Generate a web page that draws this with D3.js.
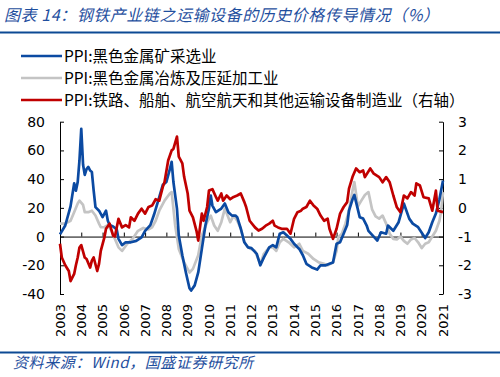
<!DOCTYPE html>
<html><head><meta charset="utf-8">
<script src="https://cdn.jsdelivr.net/npm/d3@7"></script>
<style>
body{margin:0;background:#fff;}
svg{display:block;}
</style></head>
<body>
<svg id="c" width="500" height="377"></svg>
<script>
// ---- data ----
const title = "图表 14：钢铁产业链之运输设备的历史价格传导情况（%）";
const source = "资料来源：Wind，国盛证券研究所";
const seriesNames = ["PPI:黑色金属矿采选业","PPI:黑色金属冶炼及压延加工业","PPI:铁路、船舶、航空航天和其他运输设备制造业（右轴）"];
const yearTicks = d3.range(2003, 2022);
const leftTicks = [-40,-20,0,20,40,60,80];
const rightTicks = [-3,-2,-1,0,1,2,3];

const blueDates = ["2003-01","2003-04","2003-07","2003-09","2003-10","2003-11","2003-12","2004-01","2004-02","2004-03","2004-04","2004-05","2004-06","2004-07","2004-08","2004-09","2004-11","2005-01","2005-03","2005-04","2005-05","2005-07","2005-09","2005-10","2005-12","2006-02","2006-05","2006-08","2006-11","2007-01","2007-04","2007-06","2007-09","2007-11","2008-01","2008-03","2008-04","2008-05","2008-07","2008-08","2008-10","2008-12","2009-02","2009-03","2009-05","2009-07","2009-09","2009-11","2010-01","2010-02","2010-03","2010-05","2010-08","2010-10","2010-12","2011-02","2011-04","2011-05","2011-07","2011-09","2011-11","2012-01","2012-04","2012-06","2012-08","2012-11","2013-01","2013-03","2013-05","2013-07","2013-09","2013-11","2014-01","2014-04","2014-06","2014-08","2014-11","2015-02","2015-04","2015-07","2015-09","2015-11","2016-01","2016-03","2016-05","2016-07","2016-08","2016-10","2016-11","2017-02","2017-04","2017-06","2017-07","2017-12","2018-02","2018-05","2018-06","2018-09","2018-12","2019-03","2019-06","2019-08","2019-11","2020-03","2020-05","2020-07","2020-09","2020-11","2021-01"];
const blueValues = [1.5,7.7,21,37,32,38,53,75,50,43,47,48.5,46,45,32,20.5,18,13.5,18,11,8,7,5,-1.6,-6,-4,-4,-3,-0.5,4,8,15,27.5,36,38,47,52,38,19.5,0.7,-13,-25,-36,-37.6,-34,-25,-8.6,7.7,19.5,28.6,21.6,17,19.5,23,17,14.6,14.6,13.5,5.6,-4,-7.5,-8,-12,-20,-14.5,-7.5,-6,-7.5,2,3,0.7,-1.6,-5,-8.6,-13,-19,-21.5,-23,-20,-20,-19,-18,-5,-4,2,8,18,26,29,13.5,12.5,7.7,4,-2.8,3,2,7.7,4,10,23,12.5,9,6.5,-1,3,10,16,26,39];

const greyDates = ["2003-01","2003-04","2003-07","2003-09","2003-11","2003-12","2004-02","2004-03","2004-05","2004-07","2004-09","2004-11","2004-12","2005-02","2005-04","2005-06","2005-08","2005-10","2005-12","2006-03","2006-06","2006-09","2006-12","2007-03","2007-05","2007-07","2007-09","2007-12","2008-03","2008-04","2008-06","2008-08","2008-11","2009-02","2009-04","2009-07","2009-09","2009-12","2010-02","2010-04","2010-06","2010-08","2010-10","2011-01","2011-03","2011-05","2011-07","2011-09","2011-11","2012-03","2012-06","2012-08","2012-11","2013-01","2013-03","2013-05","2013-07","2013-10","2014-01","2014-04","2014-06","2014-09","2014-12","2015-03","2015-06","2015-08","2015-11","2016-01","2016-02","2016-04","2016-06","2016-08","2016-10","2016-11","2017-01","2017-03","2017-05","2017-07","2017-09","2017-11","2018-01","2018-03","2018-05","2018-07","2018-09","2018-11","2019-01","2019-03","2019-05","2019-07","2019-09","2019-11","2020-01","2020-03","2020-05","2020-07","2020-09","2020-11","2020-12","2021-01"];
const greyValues = [9,9,11,17,23,25,22,17,17,18,14.7,9,6.5,6.5,8,4,-1.6,-7.5,-10,-5,-1.6,4,6,5,6.5,11,18,25,30,31,7.7,-8.6,-18,-25,-22.5,-13,0.7,10,14.6,7.7,4,10,19.5,10,14.6,11,5.6,-4,-7.5,-10,-19,-12,-7.5,-7.5,-10,-4,-1.6,-4,-7.5,-5,-10,-12,-15.6,-18,-19,-20,-18,-10,-0.5,2,9,18,32,38,21,25,29,31,19,14,12.5,14.6,9,2,-1.6,-2,0,-3,-5,-2,-1,-4,-8,-5,-4,0,4,11,18,31];

const redDates = ["2003-01","2003-02","2003-04","2003-06","2003-07","2003-09","2003-10","2003-11","2003-12","2004-01","2004-03","2004-04","2004-06","2004-07","2004-08","2004-10","2004-11","2004-12","2005-02","2005-03","2005-05","2005-07","2005-08","2005-10","2005-12","2006-02","2006-04","2006-05","2006-07","2006-09","2006-11","2007-01","2007-03","2007-05","2007-07","2007-09","2007-11","2007-12","2008-02","2008-04","2008-05","2008-07","2008-08","2008-10","2008-11","2009-01","2009-02","2009-04","2009-06","2009-07","2009-09","2009-10","2009-12","2010-01","2010-03","2010-05","2010-06","2010-08","2010-09","2010-11","2011-01","2011-03","2011-05","2011-07","2011-09","2011-10","2011-12","2012-03","2012-05","2012-07","2012-09","2012-11","2013-01","2013-02","2013-04","2013-06","2013-09","2013-11","2014-01","2014-03","2014-05","2014-06","2014-08","2014-10","2014-12","2015-02","2015-04","2015-06","2015-08","2015-09","2015-11","2016-01","2016-03","2016-05","2016-07","2016-08","2016-10","2016-12","2017-02","2017-04","2017-05","2017-08","2017-10","2018-01","2018-03","2018-05","2018-07","2018-09","2018-11","2019-01","2019-03","2019-05","2019-07","2019-09","2019-10","2019-12","2020-02","2020-05","2020-07","2020-09","2020-10","2021-01"];
const redValues = [-1.25,-1.73,-2.0,-2.2,-2.55,-2.3,-2.0,-1.73,-1.38,-1.3,-1.73,-1.78,-2.08,-1.84,-1.73,-2.2,-1.95,-1.5,-1.03,-0.73,-0.55,-0.97,-1.0,-0.38,-0.68,-0.6,-0.68,-0.33,-0.45,-0.2,-0.03,-0.2,0.03,0.08,0.3,0.25,0.73,0.9,1.65,2.0,2.05,2.48,1.78,1.55,1.08,0.5,-0.1,-0.33,-0.8,-1.14,-0.2,-0.45,0.03,0.6,0.65,0.38,0.25,0.5,0.25,0.43,0.3,0.38,0.43,0.5,0.2,0.03,-0.45,-0.68,-0.79,-0.73,-0.62,-0.55,-0.45,-0.62,-0.68,-0.73,-0.73,-0.9,-0.38,-0.15,-0.1,-0.03,0.03,0.25,0.08,-0.03,-0.27,-0.45,-0.38,-0.73,-1.08,-0.73,-0.2,0.03,0.2,0.67,1.08,1.37,1.24,1.3,1.07,1.37,1.19,1.07,0.89,1.07,0.89,0.43,0.02,-0.15,0.43,0.33,0.55,0.43,0.85,0.78,0.37,0.33,-0.1,0.6,-0.1,-0.15];

// ---- drawing ----
const svg = d3.select("#c");
const parse = d3.timeParse("%Y-%m");
const colors = ["#0b4aa2","#c4c4c4","#c00000"];
const cjk = "'Noto Sans CJK SC','Noto Sans',sans-serif";
const num = "'DejaVu Sans',sans-serif";

const x = d3.scaleTime().domain([new Date(2003,0,1), new Date(2021,0,1)]).range([60, 443]);
const yL = d3.scaleLinear().domain([-40,80]).range([294,121.7]);
const yR = d3.scaleLinear().domain([-3,3]).range([294,121.7]);

// title
svg.append("text").attr("x",4).attr("y",21).text(title)
  .attr("font-family",cjk).attr("font-size",16).attr("font-style","italic")
  .attr("letter-spacing",0.55).attr("fill","#1f4f9e");
svg.append("line").attr("x1",0).attr("x2",500).attr("y1",32.5).attr("y2",32.5)
  .attr("stroke","#0d4a94").attr("stroke-width",2.2);

// legend
seriesNames.forEach((n,i)=>{
  const yy = 56 + i*22;
  svg.append("line").attr("x1",21).attr("x2",62).attr("y1",yy).attr("y2",yy)
    .attr("stroke",colors[i]).attr("stroke-width",2.5);
  svg.append("text").attr("x",64).attr("y",yy+6).text(n)
    .attr("font-family",cjk).attr("font-size",15.5).attr("fill","#000");
});

// axes
const fmt = d => String(d);
const gL = svg.append("g").attr("transform","translate(60,0)")
  .call(d3.axisLeft(yL).tickValues(leftTicks).tickFormat(fmt).tickSizeInner(-4).tickSizeOuter(0).tickPadding(15));
const gR = svg.append("g").attr("transform","translate(443,0)")
  .call(d3.axisRight(yR).tickValues(rightTicks).tickFormat(fmt).tickSizeInner(-4).tickSizeOuter(0).tickPadding(15));
[gL,gR].forEach(g=>{
  g.select(".domain").attr("stroke","#000");
  g.selectAll(".tick line").attr("stroke","#000");
  g.selectAll("text").attr("font-family",num).attr("font-size",14).attr("fill","#000");
});

const gX = svg.append("g").attr("transform",`translate(0,${yL(0)})`)
  .call(d3.axisBottom(x).tickValues(yearTicks.map(y=>new Date(y,0,1))).tickSizeInner(-4).tickSizeOuter(0).tickFormat(d=>""));
gX.select(".domain").attr("stroke","#000");
gX.selectAll(".tick line").attr("stroke","#000");

// x labels (rotated) below plot
svg.append("g").selectAll("text").data(yearTicks).join("text")
  .attr("transform",d=>`translate(${x(new Date(d,0,1))},304) rotate(-90)`)
  .attr("text-anchor","end").attr("dy","0.36em")
  .attr("font-family",num).attr("font-size",13).attr("fill","#000")
  .text(d=>d);

// lines
function mk(dates, vals){ return dates.map((d,i)=>({date:parse(d), v:vals[i]})); }
const lineL = d3.line().x(d=>x(d.date)).y(d=>yL(d.v));
const lineR = d3.line().x(d=>x(d.date)).y(d=>yR(d.v));
svg.append("path").datum(mk(greyDates,greyValues)).attr("d",lineL)
  .attr("fill","none").attr("stroke",colors[1]).attr("stroke-width",2.7).attr("stroke-linejoin","round");
svg.append("path").datum(mk(blueDates,blueValues)).attr("d",lineL)
  .attr("fill","none").attr("stroke",colors[0]).attr("stroke-width",2.7).attr("stroke-linejoin","round");
svg.append("path").datum(mk(redDates,redValues)).attr("d",lineR)
  .attr("fill","none").attr("stroke",colors[2]).attr("stroke-width",2.7).attr("stroke-linejoin","round");

// footer
svg.append("line").attr("x1",0).attr("x2",500).attr("y1",352.5).attr("y2",352.5)
  .attr("stroke","#0d4a94").attr("stroke-width",2);
svg.append("text").attr("x",13).attr("y",368).text(source)
  .attr("font-family",cjk).attr("font-size",15).attr("font-style","italic")
  .attr("letter-spacing",0.6).attr("fill","#1f4f9e");
</script>
</body></html>
